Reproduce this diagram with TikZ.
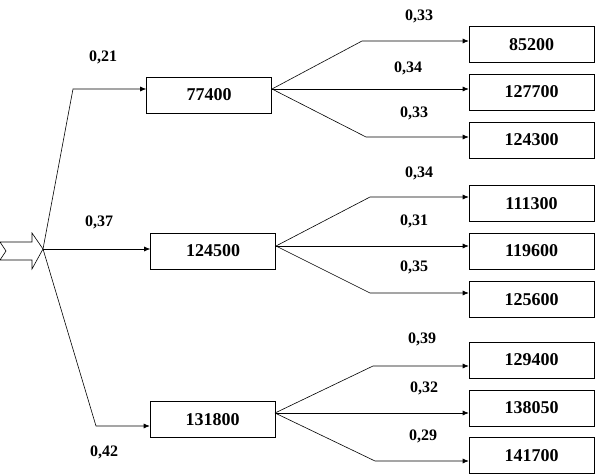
\documentclass[tikz,border=0pt]{standalone}
\usepackage{fontspec}
\setmainfont{Liberation Serif}
\usetikzlibrary{arrows.meta}
\begin{document}
\begin{tikzpicture}[x=1pt,y=-1pt,
 box/.style={draw, line width=0.6pt, inner sep=0pt, minimum width=125pt, minimum height=36pt, font=\fontsize{18}{18}\selectfont\bfseries},
 lbl/.style={font=\fontsize{16}{16}\selectfont\bfseries, inner sep=0pt},
 conn/.style={line width=0.6pt},
 arr/.style={conn, -{Latex[length=6pt,width=5pt]}}]
\useasboundingbox (0,0) rectangle (597,476);
% first-level boxes
\node[box] (b1) at (209,95) {77400};
\node[box] (b2) at (213,251) {124500};
\node[box] (b3) at (212.5,419.5) {131800};
% second-level boxes
\node[box] (r1) at (531.5,44.5) {85200};
\node[box] (r2) at (531.5,92) {127700};
\node[box] (r3) at (531.5,140) {124300};
\node[box] (r4) at (531.5,203.5) {111300};
\node[box] (r5) at (531.5,251) {119600};
\node[box] (r6) at (531.5,299.5) {125600};
\node[box] (r7) at (531.5,360) {129400};
\node[box] (r8) at (531.5,408) {138050};
\node[box] (r9) at (531.5,455.5) {141700};
% coordinates
\coordinate (tip) at (43,249);
\coordinate (c1) at (73,89);
\coordinate (c3) at (96,426);
\coordinate (o1) at (272,89);
\coordinate (u1) at (362,41);
\coordinate (l1) at (366,137);
\coordinate (o2) at (276,246);
\coordinate (u2) at (370,197);
\coordinate (l2) at (370,293);
\coordinate (o3) at (275,413);
\coordinate (u3) at (373,366);
\coordinate (l3) at (375,461);
% first-level connectors
\draw[arr] (tip) -- (c1) -- (c1 -| b1.west);
\draw[arr] (tip) -- (tip -| b2.west);
\draw[arr] (tip) -- (c3) -- (c3 -| b3.west);
% second-level connectors
\draw[arr] (o1) -- (u1) -- (u1 -| r1.west);
\draw[arr] (o1) -- (o1 -| r2.west);
\draw[arr] (o1) -- (l1) -- (l1 -| r3.west);
\draw[arr] (o2) -- (u2) -- (u2 -| r4.west);
\draw[arr] (o2) -- (o2 -| r5.west);
\draw[arr] (o2) -- (l2) -- (l2 -| r6.west);
\draw[arr] (o3) -- (u3) -- (u3 -| r7.west);
\draw[arr] (o3) -- (o3 -| r8.west);
\draw[arr] (o3) -- (l3) -- (l3 -| r9.west);
% block arrow
\draw[line width=0.6pt, fill=white] (0,242) -- (32,242) -- (32,233) -- (tip) -- (32,269) -- (32,260) -- (0,260) -- (6,251) -- cycle;
% labels
\node[lbl] (p1) at (103,57) {0,21};
\node[lbl] (p2) at (99,222) {0,37};
\node[lbl] (p3) at (104,452) {0,42};
\node[lbl] (q1) at (419,16) {0,33};
\node[lbl] (q2) at (408,68) {0,34};
\node[lbl] (q3) at (414,113) {0,33};
\node[lbl] (q4) at (419,173) {0,34};
\node[lbl] (q5) at (414,221) {0,31};
\node[lbl] (q6) at (414,267) {0,35};
\node[lbl] (q7) at (422,339) {0,39};
\node[lbl] (q8) at (424,388) {0,32};
\node[lbl] (q9) at (423,436) {0,29};
\end{tikzpicture}
\end{document}
